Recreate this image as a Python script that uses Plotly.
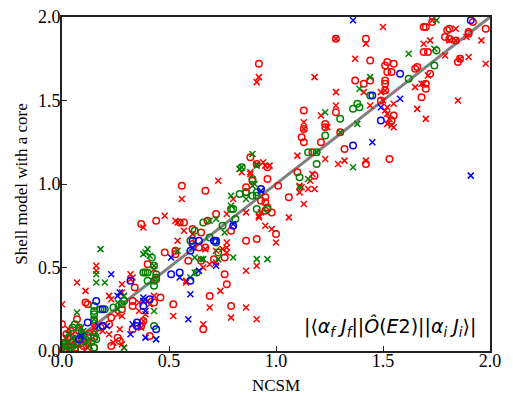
import plotly.graph_objects as go

# ---- data (NCSM, Shell model with a core) ----
rc_x = [1.42,1.69,1.70,1.73,1.80,1.81,1.79,1.81,1.84,1.90,1.90,1.92,1.98,1.69,1.71,1.44,1.37,1.41,1.44,1.52,1.55,1.51,1.52,1.54,1.51,1.51,1.65,1.66,1.72,1.70,1.70,1.85,1.86,1.68,1.51,1.49,1.55,1.54,
        1.28,0.92,1.13,1.13,1.12,1.13,1.23,1.23,1.28,1.30,1.21,1.17,1.32,1.10,1.18,0.88,0.96,0.96,0.86,1.01,1.42,1.53,0.91,
        0.56,0.67,0.89,1.06,0.72,0.65,0.61,0.57,0.55,0.79,0.86,0.91,0.93,0.95,0.96,0.95,0.95,0.86,0.76,0.76,0.77,0.59,0.53,0.61,0.64,1.00,0.67,0.98,0.37,0.44,0.68,0.65,0.71,0.79,0.69,0.66,0.52,0.44,0.48,0.53,
        0.34,0.33,0.28,0.23,0.15,0.22,0.19,0.18,0.26,0.27,0.23,0.33,0.37,0.41,0.43,0.46,0.38,0.33,0.11,0.12,0.07,0.15,0.14,0.15,0.09,0.40,0.00,
        0.02,0.04,0.05,0.07,0.03,0.01,0.06,0.10,0.12,0.08,0.04,0.10]
rc_y = [1.87,1.94,1.94,1.97,1.92,1.93,1.88,1.87,1.86,1.90,1.91,1.97,1.93,1.79,1.79,1.74,1.62,1.60,1.62,1.73,1.72,1.71,1.67,1.67,1.62,1.60,1.69,1.70,1.66,1.60,1.57,1.73,1.75,1.52,1.56,1.50,1.41,1.38,
        1.87,1.72,1.44,1.33,1.28,1.25,1.36,1.34,1.43,1.31,1.25,1.19,1.21,1.07,1.05,1.16,1.10,1.03,0.98,0.99,1.12,1.15,1.12,
        0.99,0.96,1.02,0.92,0.82,0.71,0.73,0.77,0.77,0.72,0.66,0.67,0.90,0.89,0.86,0.84,0.92,0.95,0.56,0.46,0.40,0.54,0.60,0.64,0.62,0.70,0.62,0.83,0.76,0.78,0.78,0.54,0.55,0.27,0.33,0.13,0.28,0.43,0.59,0.58,
        0.38,0.30,0.25,0.20,0.18,0.16,0.15,0.14,0.08,0.06,0.03,0.13,0.15,0.09,0.29,0.32,0.18,0.27,0.29,0.28,0.19,0.08,0.06,0.02,0.01,0.52,0.16,
        0.10,0.12,0.06,0.04,0.03,0.05,0.02,0.09,0.05,0.12,0.01,0.03]

rx_x = [1.42,1.50,1.69,1.72,1.84,1.37,1.79,1.86,1.90,1.96,1.98,1.65,1.68,1.69,1.71,1.41,1.49,1.51,1.44,1.52,1.55,1.51,1.52,1.53,1.54,1.55,1.52,1.66,1.70,1.85,1.50,1.89,1.84,1.81,1.73,1.28,
        0.91,0.92,1.18,1.28,1.28,1.21,1.13,1.13,1.24,1.10,1.23,1.29,1.32,1.42,0.83,0.84,0.88,0.91,0.94,1.17,1.16,1.15,1.18,1.12,
        0.56,0.73,0.88,0.95,0.97,1.11,1.11,1.13,1.06,0.86,0.92,0.95,0.98,1.00,0.80,0.53,0.54,0.57,0.54,0.61,0.67,0.72,0.77,0.77,0.77,0.72,0.69,0.86,0.91,0.58,0.58,0.66,0.92,0.93,0.38,0.48,0.77,0.75,0.74,0.79,0.69,0.66,0.52,0.86,0.91,0.43,0.37,0.43,
        0.16,0.16,0.07,0.11,0.00,0.32,0.33,0.32,0.28,0.28,0.22,0.23,0.36,0.36,0.40,0.41,0.26,0.28,0.22,0.27,0.39,0.38,0.15,0.14,0.19,0.28,0.29,0.24,
        0.03,0.05,0.02,0.06,0.09,0.09,0.01,0.04,0.11,0.12]
rx_y = [1.84,1.94,1.84,1.86,1.93,1.75,1.77,1.75,1.76,1.86,1.72,1.58,1.60,1.60,1.65,1.55,1.55,1.56,1.47,1.46,1.48,1.44,1.42,1.39,1.35,1.34,1.36,1.45,1.39,1.50,1.50,1.88,1.86,1.86,1.98,1.87,
        1.61,1.64,1.64,1.55,1.47,1.41,1.37,1.33,1.34,1.17,1.15,1.12,1.14,1.14,1.09,1.07,1.07,1.12,1.13,1.06,1.02,0.97,0.97,0.98,
        0.91,1.02,1.06,1.11,1.11,0.99,0.95,0.88,0.80,0.83,0.80,0.75,0.73,0.65,0.91,0.78,0.77,0.72,0.66,0.70,0.61,0.60,0.65,0.62,0.59,0.53,0.52,0.48,0.51,0.42,0.41,0.50,0.81,0.83,0.74,0.81,0.82,0.61,0.36,0.20,0.26,0.16,0.21,0.26,0.19,0.33,0.14,0.49,
        0.51,0.48,0.41,0.36,0.28,0.46,0.44,0.43,0.40,0.35,0.33,0.31,0.29,0.24,0.30,0.28,0.22,0.21,0.10,0.13,0.22,0.18,0.14,0.11,0.12,0.04,0.02,0.05,
        0.13,0.10,0.08,0.07,0.14,0.05,0.02,0.04,0.11,0.02]

gc_x = [1.75,1.74,1.62,1.44,1.38,1.36,1.39,1.23,1.30,1.15,1.19,1.19,1.11,0.89,0.84,0.83,0.86,0.89,0.91,0.91,0.79,0.80,0.91,0.96,0.81,0.66,0.62,0.60,0.69,0.75,0.73,0.72,
        0.42,0.43,0.38,0.63,0.39,0.40,0.44,0.44,0.43,0.40,0.43,0.29,0.28,0.24,0.20,0.18,0.15,0.15,0.15,0.15,0.06,0.05,0.08,0.43,
        0.03,0.01,0.02,0.04,0.06,0.05,0.07,0.10,0.11,0.15,0.16,0.15,0.09,0.12,0.00]
gc_y = [1.80,1.71,1.63,1.53,1.48,1.45,1.46,1.29,1.39,1.19,1.19,1.12,1.04,1.03,1.10,0.94,0.95,0.93,0.95,0.93,0.85,0.85,0.85,0.85,0.79,0.77,0.72,0.66,0.68,0.75,0.59,0.65,
        0.56,0.51,0.47,0.47,0.47,0.47,0.46,0.44,0.42,0.42,0.39,0.30,0.28,0.26,0.25,0.25,0.27,0.24,0.22,0.19,0.16,0.14,0.14,0.15,
        0.08,0.04,0.03,0.02,0.01,0.05,0.07,0.06,0.07,0.08,0.07,0.02,0.10,0.09,0.02]

gx_x = [1.75,1.62,1.74,1.44,1.39,1.38,1.36,1.23,1.30,1.19,1.15,1.11,0.89,0.91,0.83,0.90,0.84,0.79,0.79,0.86,0.89,0.69,0.76,0.73,0.65,0.66,0.80,0.91,0.96,0.62,0.60,0.72,0.62,
        0.18,0.16,0.38,0.41,0.40,0.39,0.43,0.29,0.26,0.26,0.07,0.43,0.44,0.15,0.09,0.16,0.29,0.12,0.16,0.20,0.54,
        0.03,0.05,0.02,0.05,0.08,0.00,0.10,0.13]
gx_y = [1.98,1.78,1.81,1.64,1.57,1.36,1.10,1.43,1.31,1.19,1.03,0.98,1.18,1.11,1.09,1.00,1.10,0.93,0.87,0.91,0.99,0.78,0.71,0.55,0.55,0.55,0.56,0.55,0.55,0.47,0.44,0.79,0.56,
        0.61,0.46,0.58,0.57,0.61,0.59,0.51,0.33,0.29,0.25,0.23,0.24,0.07,0.19,0.11,0.11,0.02,0.06,0.41,0.41,0.60,
        0.10,0.08,0.02,0.03,0.04,0.05,0.12,0.03]

bc_x = [1.91,1.58,1.45,1.49,1.36,0.93,0.80,0.61,0.64,0.60,0.71,0.72,0.55,0.60,0.51,0.32,0.16,0.19,0.41,0.35,0.44,0.19,0.35,0.38,0.08,0.12]
bc_y = [1.98,1.66,1.53,1.38,1.23,0.97,0.75,0.66,0.66,0.60,0.66,0.66,0.47,0.42,0.46,0.42,0.30,0.25,0.31,0.17,0.13,0.15,0.15,0.27,0.07,0.17]

bx_x = [1.36,1.58,1.49,1.45,1.91,0.93,0.80,0.61,0.72,0.64,0.55,0.51,0.60,0.59,0.23,0.27,0.26,0.39,0.32,0.33,0.39,0.44,0.17,0.21,0.38,0.38,0.09]
bx_y = [1.98,1.51,1.46,1.25,1.05,0.96,0.76,0.62,0.51,0.48,0.44,0.56,0.34,0.19,0.46,0.35,0.33,0.24,0.10,0.16,0.08,0.07,0.15,0.15,0.30,0.32,0.09]

diag = [0, 2]
ticks = [0.0, 0.5, 1.0, 1.5, 2.0]
tick_text = ["0.0", "0.5", "1.0", "1.5", "2.0"]

RED, GREEN, BLUE = "#ff0000", "#008000", "#0000ff"

fig = go.Figure()
fig.add_trace(go.Scatter(x=diag, y=diag, mode="lines",
                         line=dict(color="#808080", width=3), showlegend=False))

def add(xs, ys, color, sym):
    fig.add_trace(go.Scatter(
        x=xs, y=ys, mode="markers", showlegend=False,
        marker=dict(symbol=sym, size=6.5 if sym == "circle-open" else 6,
                    color=color, line=dict(color=color, width=1.5))))

add(rc_x, rc_y, RED, "circle-open")
add(rx_x, rx_y, RED, "x-thin-open")
add(gc_x, gc_y, GREEN, "circle-open")
add(gx_x, gx_y, GREEN, "x-thin-open")
add(bc_x, bc_y, BLUE, "circle-open")
add(bx_x, bx_y, BLUE, "x-thin-open")

axis_common = dict(range=[0, 2], tickvals=ticks, ticktext=tick_text,
                   ticks="inside", ticklen=5, tickwidth=1.2, tickcolor="#222222",
                   showline=True, linecolor="#222222", linewidth=1.8, mirror=True,
                   showgrid=False, zeroline=False, automargin=False,
                   ticklabeloverflow="allow",
                   tickfont=dict(family="Liberation Serif", size=18, color="black"))

# page body has a default 8px margin, so the figure is sized to fit the window
fig.update_layout(
    width=505, height=399,
    margin=dict(l=54, r=23, t=9, b=56),
    plot_bgcolor="white", paper_bgcolor="white",
    xaxis=dict(**axis_common, ticklabelstandoff=-8,
               title=dict(text="NCSM", standoff=10,
                          font=dict(family="Liberation Serif", size=17, color="black"))),
    yaxis=dict(**axis_common, ticklabelstandoff=-4,
               title=dict(text="Shell model with a core", standoff=6,
                          font=dict(family="Liberation Serif", size=17, color="black"))),
    annotations=[dict(
        x=1.945, y=0.145, xref="x", yref="y", xanchor="right", yanchor="middle",
        showarrow=False,
        text="|⟨<i>α<sub>f</sub> J<sub>f</sub></i>||<i>Ô</i>(<i>E</i>2)||<i>α<sub>i</sub> J<sub>i</sub></i>⟩|",
        font=dict(family="DejaVu Sans", size=19, color="black"))],
)

fig.write_html("out.html")
